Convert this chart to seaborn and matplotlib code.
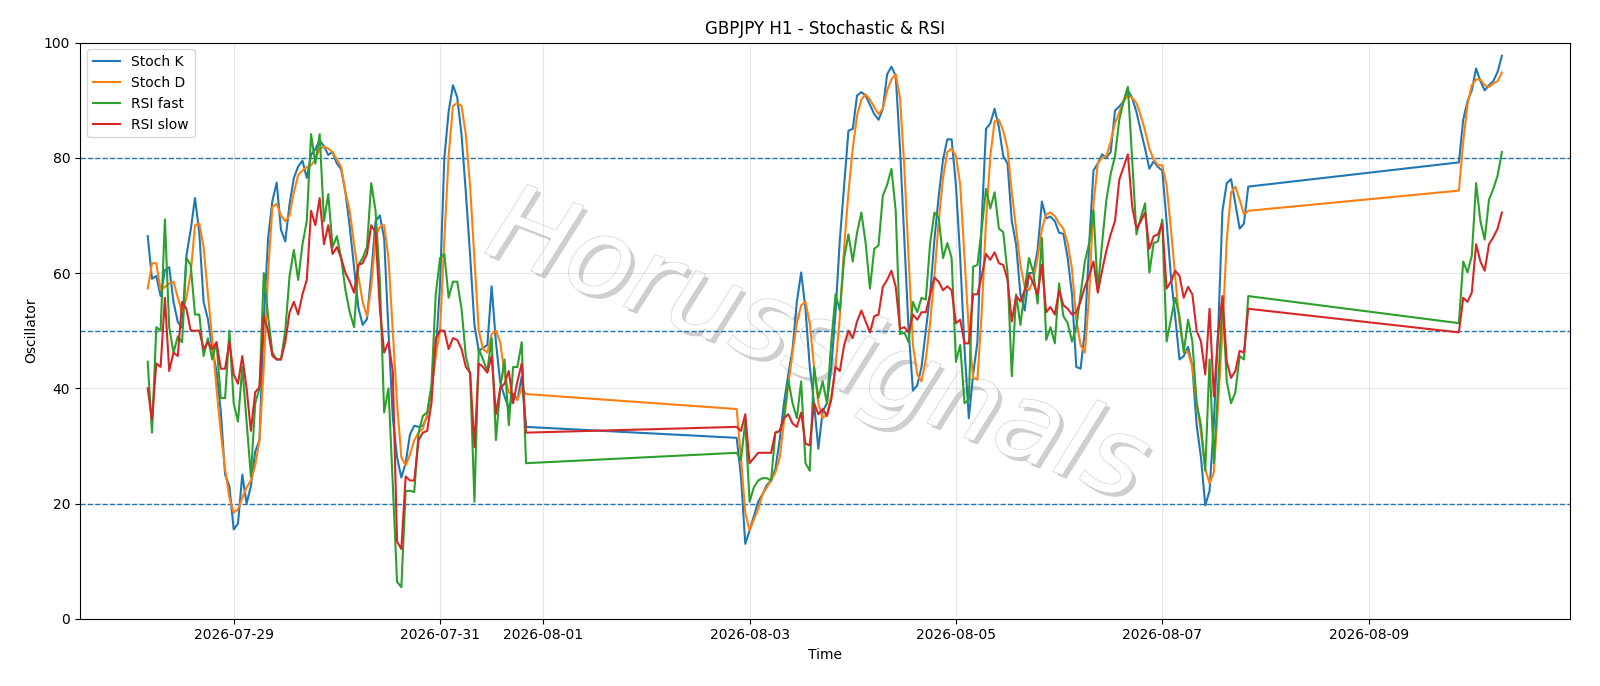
import numpy as np
import pandas as pd
import matplotlib
matplotlib.use("Agg")
import matplotlib.pyplot as plt
import matplotlib.patheffects as pe
import seaborn as sns

# segment start times (hourly data, weekend gaps)
seg_starts = ["2026-07-28 04:00", "2026-08-02 21:00", "2026-08-09 21:00"]

k1 = [66.4,59,59.5,56,60.5,61,55,51.5,50.5,63,67.5,73,67,55,52,47,43,36,25,23,
      15.5,16.5,25,20,23,29,31,52,66,72.5,75.7,67.5,65.5,72,76.5,78.5,79.5,76.5,80.5,81.5,
      83,82,80.5,81,79,78,74,68,61,54,51,52,60,69,70,66,50,35,28,24.5,
      27,32,33.5,33.3,33.5,35,40,46,
      58,80,88,92.6,90.5,84,74,63,51,46.5,47,47.5,57.7,48,41,38.6,36.5,39,38,42,33.3]
d1 = [57.3,61.7,61.7,57,57.6,58.2,58.5,55.7,53.2,55.7,60,68.3,68.6,64.5,56.3,48.7,40,32.3,26,21,
      18.4,19,21,22.8,24,26.6,31,43.7,60,71.5,72,70,69,70,74,77,77.8,78.4,78.7,79.7,
      81.6,81.9,81.6,81,79.7,78.4,74,70.8,65,59.5,55,52.5,57.6,66.4,68,68.3,62.6,50,37.4,28,
      26.6,28.5,31,32.3,33,35.5,40,45.6,
      50,65.8,80.3,89,89.5,89,84,75,62.6,50,46.8,46.2,49.4,50,48,42.4,39.3,38.6,38,40,39]
g1 = [44.6,32.3,50.6,50,69.3,50.6,46.2,49,48,62.6,61.4,52.8,52.8,45.6,48.7,45,48,38.3,38.3,50,
      37.4,34.2,43.7,34.2,24.7,37.4,40,60,52.5,46.2,45,45,50,59.5,64,58.8,65,69,84.1,79,
      84.1,69,73.7,64.5,66.4,62.6,57,53.2,50.6,61.4,62.6,64.5,75.6,70.8,58.8,35.8,40,23.5,6.4,5.5,
      22.2,22.2,22,32.3,35.2,35.8,40.5,56.3,
      62.6,63.3,55.7,58.5,58.5,53.8,45.6,42.4,20.3,46.8,45,43,48.7,31,40,45,33.6,43.7,43.7,48,27]
r1 = [40,34.5,44.3,43.7,55.7,43,46.2,45.6,55,53.8,50,50,50,46.8,48,46.8,48,43.4,43.4,48,
      42.4,40.8,45.6,40,32.6,39.3,40.2,52.5,50,45.6,45,45,48,53.2,55,52.8,56.3,58.8,70.8,68.3,
      73,65,68.3,63.3,64.5,62.6,60,58.5,56.6,61.4,61.7,63.3,68.3,67,53.8,46.2,48,43,13.4,12.1,
      24.7,24,24,31,32.3,32.6,37.4,48.7,
      50,50,46.8,48.7,48.4,46.8,43.7,42.7,29.8,44.3,43.7,42.7,45.6,35.5,40,40.8,43,37.4,41.2,44.3,32.3]

k2 = [31.4,24.7,13,15.3,17.8,20.3,21.6,23.2,24,26,31,37.4,42.4,46.8,55,60.1,53.8,43.7,37.4,29.5,
      36,37.4,43.7,53.2,65.8,75.3,84.7,85,90.8,91.4,90.8,89.2,87.6,86.6,88.5,94.5,95.8,94.2,81.6,65.8,
      50,39.6,40.5,43.7,50,56.3,65.8,73.4,79.7,83.2,83.2,75.3,62.6,46.8,34.8,
      42.4,48,69,85,86,88.5,85.3,80.3,79,69,65,56.3,53.5,60,60,64,72.4,69.5,69.8,69,
      67,66.8,62.6,56.3,43.7,43.4,50,65,77.8,79,80.6,80,81,88.2,88.9,89.8,91.7,90.4,87.9,84.7,
      81.6,78.1,79.4,78.4,77.8,69,59.5,52.5,45,45.6,47.2,43.7,33.6,28,19.7,
      22.2,34.2,50,70.8,75.6,76.3,72,67.7,68.6,75]
d2 = [36.4,27.9,18.4,15.3,17.2,19,21.6,22.8,24,25.4,27.9,34.2,40.5,46.2,51.3,54.4,55,51.3,43.7,37.4,
      34.8,35.5,38.6,43.7,52.5,64.5,74,81.6,87.3,90.1,91,90.1,88.8,87.6,88.5,91.7,93.6,94.5,90.4,78.4,
      62.6,47.5,42.4,41.2,45,51.3,59.5,69,76.5,81,81.6,80.3,75.3,62.6,50,
      41.8,41.5,53.2,69,80.3,86.3,86.6,84.7,81.6,74,67.7,61.4,57.6,57,58.8,62.6,67.7,70.2,70.5,69.9,
      68.6,67.7,65.2,60.7,51.9,47.5,46.2,56.3,72,79,80,80.3,82.8,86,87.9,89.8,90.8,90.4,89.5,87.3,
      84.7,81.6,79.7,78.7,78.7,75.3,67.7,59.5,51.3,46.8,46.2,43.7,37.4,32.3,26,
      23.5,25.4,37.4,50,65.8,74,75,72.7,70.2,70.8]
g2 = [28.8,27.6,34.2,20.3,22.8,24,24.4,24.4,24,32.3,32.6,34.8,41.5,37.4,34.8,41.2,27,25.7,43.7,38.3,
      41.2,37.4,48,56.3,53.5,62.6,66.7,62,67,70.5,65.2,57.3,64.2,64.8,73.4,75.3,78.1,70.8,49.4,49.7,
      48,55,53.2,55.7,55.4,65.2,70.5,69.6,62.6,65.2,62.6,44.6,47.5,37.4,38,
      61.1,61.4,67.7,74.6,71.2,74,67.7,67.1,60.1,42.1,56.3,51,57,62.6,60.1,54.7,66.1,48.4,50.6,47.8,
      58.2,52.5,51.3,48.1,50.6,56.3,62,65.2,70.9,57,65.2,72.7,77.2,80.3,86.6,89.8,92.3,79.7,66.7,69.6,
      72.1,60.1,65.2,65.5,69.3,48.1,51.9,55.7,52.5,46.2,51.9,48.1,37.4,33.6,25.7,
      45,27,40.5,55.7,41.2,37.4,39.3,45.6,45,56]
r2 = [33.3,32.6,35.5,27,27.9,28.8,28.8,28.8,28.8,32.3,32.6,34.8,35.5,33.9,33.3,35.8,30.4,30.1,37.4,35.5,
      36.4,35.2,38,43.7,43,47.5,50,48.7,51.6,53.5,51.6,49.7,52.5,52.8,57.6,58.8,60.4,57.6,50.3,50.6,
      49.7,52.8,51.9,53.2,53.2,56.3,59.2,58.5,57,57.7,57,51.3,51.9,47.8,47.8,
      56.3,56.3,59.5,63.3,62.3,63.6,61.7,61.4,58.9,51.6,56,55.1,57,59.8,58.2,56.3,61.4,53.2,54.1,52.8,
      57,54.4,53.8,52.8,53.2,55.1,57.6,59.5,62,56.6,60.4,63.9,66.7,69,76.2,78.4,80.6,71.5,67.7,69,
      70.5,64.2,66.4,66.7,68.6,57.3,58.5,60.4,59.5,55.7,57.6,56.3,50,48.1,42.4,
      53.8,38.6,49.4,56,44.6,41.8,43,46.5,46.2,53.8]

k3 = [79.2,86.6,89.8,91.7,95.5,93.3,91.7,92.6,93.3,94.9,97.7]
d3 = [74.3,82.8,89.2,92.6,93.6,93.6,92.6,92.3,92.9,93.3,94.8]
g3 = [51.3,62,60.1,63,75.6,69,65.8,72.7,74.6,76.9,81]
r3 = [49.7,55.7,55,56.6,65,62,60.4,65,66.2,67.7,70.5]

levels = [20, 50, 80]
series_names = ["Stoch K", "Stoch D", "RSI fast", "RSI slow"]

times = np.concatenate([pd.date_range(s, periods=n, freq="h")
                        for s, n in zip(seg_starts, [len(k1), len(k2), len(k3)])])
df = pd.DataFrame({
    "Time": times,
    "Stoch K": k1 + k2 + k3,
    "Stoch D": d1 + d2 + d3,
    "RSI fast": g1 + g2 + g3,
    "RSI slow": r1 + r2 + r3,
})

fig, ax = plt.subplots(figsize=(16, 6.86), dpi=100)
colors = ["#1f77b4", "#ff7f0e", "#2ca02c", "#d62728"]
for name, c in zip(series_names, colors):
    sns.lineplot(data=df, x="Time", y=name, ax=ax, color=c, label=name, linewidth=1.5, zorder=3)

for lv in levels:
    ax.axhline(lv, color="#1f77b4", linestyle="--", linewidth=1, zorder=2)

ax.set_ylim(0, 100)
ax.grid(True, alpha=0.3)
ax.set_title("GBPJPY H1 - Stochastic & RSI")
ax.set_xlabel("Time")
ax.set_ylabel("Oscillator")
ax.legend(loc="upper left")

ax.text(0.495, 0.47, "Horussignals", transform=ax.transAxes, fontsize=78,
        style="italic", color="white", ha="center", va="center", rotation=-21,
        path_effects=[pe.withSimplePatchShadow(offset=(3, -3), shadow_rgbFace="#bbbbbb", alpha=0.7),
                      pe.Stroke(linewidth=0.8, foreground="#c8c8c8"), pe.Normal()],
        zorder=1)

fig.subplots_adjust(left=0.05, right=0.981, top=0.938, bottom=0.098)
fig.savefig("out.png", dpi=100)
